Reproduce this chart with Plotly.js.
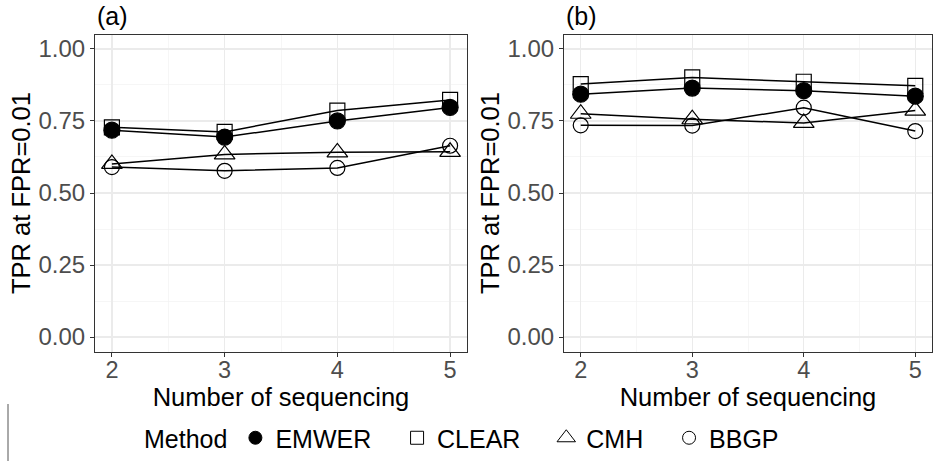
<!DOCTYPE html>
<html>
<head>
<meta charset="utf-8">
<script src="https://cdn.plot.ly/plotly-3.0.1.min.js"></script>
<style>html,body{margin:0;padding:0;background:#fff}#chart{width:933px;height:461px}</style>
</head>
<body>
<div id="chart"></div>
<script>
const seqNumbers = [2, 3, 4, 5];
const methods = ["EMWER", "CLEAR", "CMH", "BBGP"];
// Panel (a)
const tprA_EMWER = [0.718, 0.694, 0.750, 0.797];
const tprA_CLEAR = [0.728, 0.712, 0.786, 0.823];
const tprA_CMH   = [0.601, 0.634, 0.641, 0.643];
const tprA_BBGP  = [0.590, 0.577, 0.587, 0.664];
// Panel (b)
const tprB_EMWER = [0.843, 0.864, 0.855, 0.836];
const tprB_CLEAR = [0.878, 0.901, 0.886, 0.872];
const tprB_CMH   = [0.775, 0.756, 0.743, 0.786];
const tprB_BBGP  = [0.735, 0.734, 0.796, 0.715];
const yTickVals = [0, 0.25, 0.5, 0.75, 1];
const yTickText = ["0.00", "0.25", "0.50", "0.75", "1.00"];
const panelLabels = ["(a)", "(b)"];
const xTitle = "Number of sequencing";
const yTitle = "TPR at FPR=0.01";
const legendTitle = "Method";

const symbols = {EMWER: "circle", CLEAR: "square-open", CMH: "triangle-up-open", BBGP: "circle-open"};
const sizes = {EMWER: 16, CLEAR: 15, CMH: 18, BBGP: 15};
const legendSizes = {EMWER: 13, CLEAR: 13, CMH: 16, BBGP: 13};
const panelA = {EMWER: tprA_EMWER, CLEAR: tprA_CLEAR, CMH: tprA_CMH, BBGP: tprA_BBGP};
const panelB = {EMWER: tprB_EMWER, CLEAR: tprB_CLEAR, CMH: tprB_CMH, BBGP: tprB_BBGP};

const font = "Liberation Sans, Arial, sans-serif";
const traces = [];
[[panelA, "x", "y"], [panelB, "x2", "y2"]].forEach(([panel, xa, ya]) => {
  methods.forEach(m => {
    traces.push({
      x: seqNumbers, y: panel[m], xaxis: xa, yaxis: ya,
      type: "scatter", mode: "lines+markers", showlegend: false,
      line: {color: "#000", width: 1.5},
      marker: {symbol: symbols[m], size: sizes[m], color: "#000", line: {color: "#000", width: 1.2}}
    });
  });
});
const pad = "\u00a0\u00a0\u00a0";
methods.forEach((m, i) => {
  traces.push({
    x: [null], y: [null], type: "scatter", mode: "markers",
    name: i < methods.length - 1 ? m + pad : m, showlegend: true,
    marker: {symbol: symbols[m], size: legendSizes[m], color: "#000", line: {color: "#000", width: 1}}
  });
});

const W = 933, H = 461;
const yDom = [1 - 351.5 / H, 1 - 34.5 / H];
function xAxis(domain) {
  return {
    domain: domain, range: [1.85, 5.15], tickvals: seqNumbers, ticktext: seqNumbers.map(String),
    ticks: "outside", ticklen: 4, tickcolor: "#333", tickwidth: 1,
    tickfont: {family: font, size: 23.5, color: "#4d4d4d"}, ticklabelstandoff: -7,
    showgrid: true, gridcolor: "#ebebeb", gridwidth: 1.2,
    minor: {dtick: 0.5, tick0: 2.5, showgrid: true, gridcolor: "#f2f2f2", gridwidth: 0.7, ticks: ""},
    zeroline: false, showline: true, mirror: true, linecolor: "#333", linewidth: 1,
    title: {text: xTitle, font: {family: font, size: 25.5, color: "#000"}, standoff: 0}
  };
}
function yAxis(domain, anchor) {
  return {
    domain: domain, anchor: anchor, range: [-0.05, 1.05], tickvals: yTickVals, ticktext: yTickText,
    ticks: "outside", ticklen: 4, tickcolor: "#333", tickwidth: 1,
    tickfont: {family: font, size: 24, color: "#4d4d4d"},
    showgrid: true, gridcolor: "#ebebeb", gridwidth: 1.2,
    minor: {dtick: 0.125, tick0: 0.125, showgrid: true, gridcolor: "#f2f2f2", gridwidth: 0.7, ticks: ""},
    zeroline: false, showline: true, mirror: true, linecolor: "#333", linewidth: 1,
    title: {text: yTitle, font: {family: font, size: 25.5, color: "#000"}, standoff: 0}
  };
}
const xa = xAxis([95 / W, 467 / W]); xa.anchor = "y";
const xb = xAxis([564 / W, 932 / W]); xb.anchor = "y2";
const layout = {
  width: W, height: H, margin: {l: 0, r: 0, t: 0, b: 0},
  paper_bgcolor: "#fff", plot_bgcolor: "#fff",
  font: {family: font, color: "#000"},
  xaxis: xa, yaxis: yAxis(yDom, "x"),
  xaxis2: xb, yaxis2: yAxis(yDom, "x2"),
  showlegend: true,
  legend: {
    orientation: "h", x: 142 / W, xanchor: "left", y: 23 / H, yanchor: "middle",
    font: {family: font, size: 25, color: "#000"},
    title: {text: legendTitle, side: "left", font: {family: font, size: 25, color: "#000"}},
    bgcolor: "rgba(0,0,0,0)", itemclick: false
  },
  annotations: [
    {text: panelLabels[0], x: 95 / W, y: 1 - 16 / H, xref: "paper", yref: "paper", xanchor: "left", yanchor: "middle", showarrow: false, font: {family: font, size: 25, color: "#000"}},
    {text: panelLabels[1], x: 564 / W, y: 1 - 16 / H, xref: "paper", yref: "paper", xanchor: "left", yanchor: "middle", showarrow: false, font: {family: font, size: 25, color: "#000"}}
  ],
  shapes: [
    {type: "line", xref: "paper", yref: "paper", x0: 8 / W, x1: 8 / W, y0: 0, y1: 1 - 404 / H, line: {color: "#555", width: 1}}
  ]
};
Plotly.newPlot("chart", traces, layout, {staticPlot: true, displayModeBar: false});
</script>
</body>
</html>
